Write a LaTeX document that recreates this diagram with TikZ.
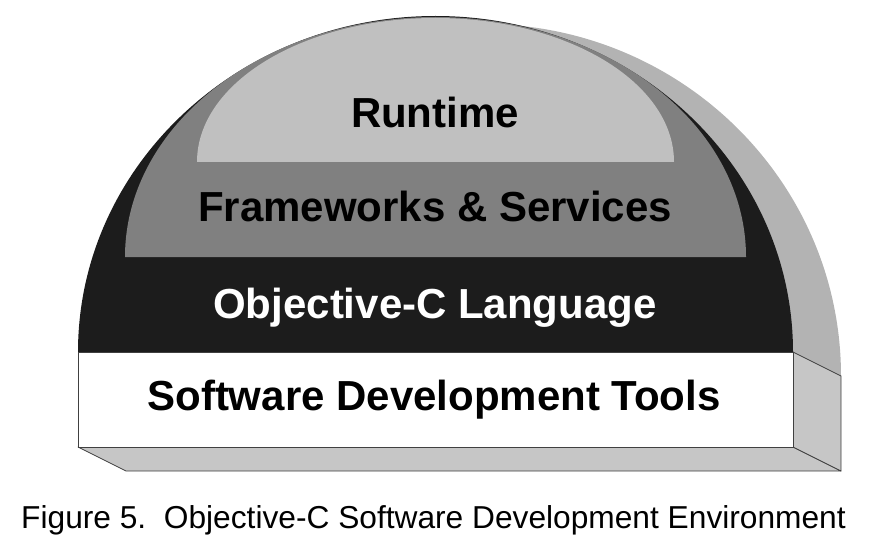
\documentclass[tikz,border=0pt]{standalone}
\usepackage{fontspec}
\setmainfont{Liberation Sans}
\definecolor{domeblack}{HTML}{1C1C1C}
\definecolor{midgrey}{HTML}{808080}
\definecolor{lightgrey}{HTML}{C0C0C0}
\definecolor{backgrey}{HTML}{B3B3B3}
\definecolor{facegrey}{HTML}{C6C6C6}
\definecolor{edgegrey}{HTML}{404040}
\begin{document}
\begin{tikzpicture}[x=1pt,y=1pt,
  layer/.style={anchor=base,font=\bfseries\fontsize{42}{48}\selectfont},
  face/.style={fill=facegrey,draw=edgegrey,line width=0.8pt,line join=round}]
\useasboundingbox (0,0) rectangle (876,550);
% back of the dome
\fill[backgrey] (841,174) arc[start angle=0,end angle=180,x radius=357.5,y radius=352] -- cycle;
% box sides
\draw[face] (78,103) -- (793,103) -- (841,79) -- (126,79) -- cycle;
\draw[face] (793,198) -- (841,174) -- (841,79) -- (793,103) -- cycle;
% dome layers
\fill[domeblack] (793,198) arc[start angle=0,end angle=180,x radius=357.5,y radius=336] -- cycle;
\fill[midgrey] (746,293) arc[start angle=0,end angle=180,x radius=310.5,y radius=240] -- cycle;
\fill[lightgrey] (674,388) arc[start angle=0,end angle=180,x radius=238.5,y radius=144] -- cycle;
% front of the box
\draw[fill=white,draw=edgegrey,line width=0.8pt] (78,103) rectangle (793,198);
\node[layer] (runtime) at (435,422) {Runtime};
\node[layer] (frameworks) at (435,328) {Frameworks \& Services};
\node[layer,text=white] (language) at (435,232) {Objective-C Language};
\node[layer] (tools) at (434,140) {Software Development Tools};
\node[anchor=base,font=\fontsize{31.7}{36}\selectfont] (caption) at (433.5,22) {Figure 5.\ \ Objective-C Software Development Environment};
\end{tikzpicture}
\end{document}
